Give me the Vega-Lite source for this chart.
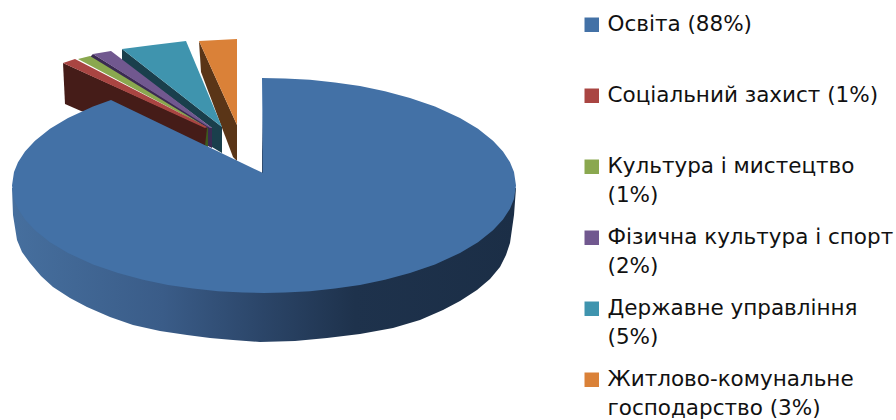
{"$schema":"https://vega.github.io/schema/vega-lite/v6.json","width":896,"height":420,"padding":0,"autosize":{"type":"fit","contains":"padding"},"background":"white","config":{"view":{"stroke":null}},
"datasets":{"wall":[
{"n":1,"x":12,"y":188},{"n":2,"x":13,"y":215},{"n":3,"x":17,"y":240},{"n":4,"x":22,"y":252},{"n":5,"x":30,"y":263},{"n":6,"x":41,"y":276},{"n":7,"x":53,"y":287},{"n":8,"x":70,"y":298},{"n":9,"x":87,"y":307},{"n":10,"x":110,"y":317},{"n":11,"x":133,"y":325},{"n":12,"x":160,"y":331},{"n":13,"x":187,"y":335},{"n":14,"x":210,"y":338},{"n":15,"x":233,"y":340},{"n":16,"x":260,"y":342},{"n":17,"x":295,"y":341},{"n":18,"x":327,"y":338},{"n":19,"x":360,"y":334},{"n":20,"x":393,"y":328},{"n":21,"x":420,"y":320},{"n":22,"x":443,"y":310},{"n":23,"x":460,"y":301},{"n":24,"x":477,"y":290},{"n":25,"x":490,"y":279},{"n":26,"x":500,"y":267},{"n":27,"x":506,"y":255},{"n":28,"x":510,"y":243},{"n":29,"x":514,"y":215},{"n":30,"x":516,"y":188},{"n":31,"x":264,"y":200}],
"sideWalls":[
{"part":"inner","n":1,"x":262,"y":110},{"part":"inner","n":2,"x":263.5,"y":173},{"part":"inner","n":3,"x":262,"y":173},
{"part":"orange","n":1,"x":199,"y":41},{"part":"orange","n":2,"x":201,"y":72},{"part":"orange","n":3,"x":233,"y":157},{"part":"orange","n":4,"x":237,"y":161},{"part":"orange","n":5,"x":237,"y":125},
{"part":"teal","n":1,"x":122,"y":49},{"part":"teal","n":2,"x":122,"y":61},{"part":"teal","n":3,"x":212,"y":128},{"part":"teal","n":4,"x":212,"y":147},{"part":"teal","n":5,"x":222,"y":153},{"part":"teal","n":6,"x":222,"y":127},
{"part":"purple","n":1,"x":93,"y":54},{"part":"purple","n":2,"x":90,"y":57},{"part":"purple","n":3,"x":208,"y":130},{"part":"purple","n":4,"x":208,"y":146},{"part":"purple","n":5,"x":212,"y":148},{"part":"purple","n":6,"x":212,"y":128},
{"part":"green","n":1,"x":205,"y":128},{"part":"green","n":2,"x":208,"y":128},{"part":"green","n":3,"x":208,"y":147},{"part":"green","n":4,"x":205,"y":146},
{"part":"red","n":1,"x":63,"y":63},{"part":"red","n":2,"x":65,"y":104},{"part":"red","n":3,"x":81,"y":111},{"part":"red","n":4,"x":205,"y":146},{"part":"red","n":5,"x":207,"y":128}],
"tops":[
{"c":"Житлово-комунальне\nгосподарство (3%)","n":1,"x":199,"y":41},{"c":"Житлово-комунальне\nгосподарство (3%)","n":2,"x":218,"y":40},{"c":"Житлово-комунальне\nгосподарство (3%)","n":3,"x":237,"y":39},{"c":"Житлово-комунальне\nгосподарство (3%)","n":4,"x":237,"y":125},
{"c":"Державне управління\n(5%)","n":1,"x":122,"y":49},{"c":"Державне управління\n(5%)","n":2,"x":153,"y":45},{"c":"Державне управління\n(5%)","n":3,"x":186,"y":41},{"c":"Державне управління\n(5%)","n":4,"x":222,"y":127},
{"c":"Фізична культура і спорт\n(2%)","n":1,"x":93,"y":54},{"c":"Фізична культура і спорт\n(2%)","n":2,"x":111,"y":51},{"c":"Фізична культура і спорт\n(2%)","n":3,"x":212,"y":128},{"c":"Фізична культура і спорт\n(2%)","n":4,"x":210,"y":128},
{"c":"Культура і мистецтво\n(1%)","n":1,"x":78,"y":59},{"c":"Культура і мистецтво\n(1%)","n":2,"x":90,"y":56},{"c":"Культура і мистецтво\n(1%)","n":3,"x":208,"y":128},
{"c":"Соціальний захист (1%)\n","n":1,"x":63,"y":63},{"c":"Соціальний захист (1%)\n","n":2,"x":75,"y":59},{"c":"Соціальний захист (1%)\n","n":3,"x":207,"y":127},{"c":"Соціальний захист (1%)\n","n":4,"x":205,"y":128},
{"c":"Освіта (88%)\n","n":1,"x":262,"y":78},{"c":"Освіта (88%)\n","n":2,"x":285,"y":78.4},{"c":"Освіта (88%)\n","n":3,"x":310,"y":79.8},{"c":"Освіта (88%)\n","n":4,"x":335,"y":82.4},{"c":"Освіта (88%)\n","n":5,"x":360,"y":86.1},{"c":"Освіта (88%)\n","n":6,"x":385,"y":91.2},{"c":"Освіта (88%)\n","n":7,"x":410,"y":97.9},{"c":"Освіта (88%)\n","n":8,"x":435,"y":106.5},{"c":"Освіта (88%)\n","n":9,"x":460,"y":117.9},{"c":"Освіта (88%)\n","n":10,"x":478,"y":128.7},{"c":"Освіта (88%)\n","n":11,"x":493,"y":140.7},{"c":"Освіта (88%)\n","n":12,"x":503,"y":151.4},{"c":"Освіта (88%)\n","n":13,"x":510,"y":162.2},{"c":"Освіта (88%)\n","n":14,"x":514,"y":172},{"c":"Освіта (88%)\n","n":15,"x":516,"y":185.5},{"c":"Освіта (88%)\n","n":16,"x":514,"y":199},{"c":"Освіта (88%)\n","n":17,"x":510,"y":208.8},{"c":"Освіта (88%)\n","n":18,"x":503,"y":219.6},{"c":"Освіта (88%)\n","n":19,"x":493,"y":230.3},{"c":"Освіта (88%)\n","n":20,"x":478,"y":242.3},{"c":"Освіта (88%)\n","n":21,"x":460,"y":253},{"c":"Освіта (88%)\n","n":22,"x":435,"y":264.5},{"c":"Освіта (88%)\n","n":23,"x":410,"y":273},{"c":"Освіта (88%)\n","n":24,"x":385,"y":279.8},{"c":"Освіта (88%)\n","n":25,"x":360,"y":284.9},{"c":"Освіта (88%)\n","n":26,"x":335,"y":288.6},{"c":"Освіта (88%)\n","n":27,"x":310,"y":291.2},{"c":"Освіта (88%)\n","n":28,"x":285,"y":292.6},{"c":"Освіта (88%)\n","n":29,"x":264,"y":293},{"c":"Освіта (88%)\n","n":30,"x":243,"y":292.6},{"c":"Освіта (88%)\n","n":31,"x":218,"y":291.2},{"c":"Освіта (88%)\n","n":32,"x":193,"y":288.6},{"c":"Освіта (88%)\n","n":33,"x":168,"y":284.9},{"c":"Освіта (88%)\n","n":34,"x":143,"y":279.8},{"c":"Освіта (88%)\n","n":35,"x":118,"y":273},{"c":"Освіта (88%)\n","n":36,"x":93,"y":264.5},{"c":"Освіта (88%)\n","n":37,"x":68,"y":253},{"c":"Освіта (88%)\n","n":38,"x":50,"y":242.3},{"c":"Освіта (88%)\n","n":39,"x":35,"y":230.3},{"c":"Освіта (88%)\n","n":40,"x":25,"y":219.6},{"c":"Освіта (88%)\n","n":41,"x":18,"y":208.8},{"c":"Освіта (88%)\n","n":42,"x":14,"y":199},{"c":"Освіта (88%)\n","n":43,"x":12,"y":185.5},{"c":"Освіта (88%)\n","n":44,"x":14,"y":172},{"c":"Освіта (88%)\n","n":45,"x":18,"y":162.2},{"c":"Освіта (88%)\n","n":46,"x":25,"y":151.4},{"c":"Освіта (88%)\n","n":47,"x":35,"y":140.7},{"c":"Освіта (88%)\n","n":48,"x":50,"y":128.7},{"c":"Освіта (88%)\n","n":49,"x":68,"y":117.9},{"c":"Освіта (88%)\n","n":50,"x":93,"y":106.5},{"c":"Освіта (88%)\n","n":51,"x":111,"y":100},{"c":"Освіта (88%)\n","n":52,"x":263,"y":173}]},
"layer":[
{"data":{"name":"wall"},"mark":{"type":"line","stroke":null,"fill":{"gradient":"linear","x1":0,"y1":0,"x2":1,"y2":0,"stops":[{"offset":0,"color":"#466f9e"},{"offset":0.3,"color":"#3a5c88"},{"offset":0.5,"color":"#2b4568"},{"offset":0.68,"color":"#1e324c"},{"offset":1,"color":"#1b2e46"}]}},
"encoding":{"x":{"field":"x","type":"quantitative","scale":{"domain":[0,896],"nice":false,"zero":false},"axis":null},"y":{"field":"y","type":"quantitative","scale":{"domain":[420,0],"nice":false,"zero":false},"axis":null},"order":{"field":"n","type":"quantitative"}}},
{"data":{"name":"sideWalls"},"mark":{"type":"line","filled":true,"strokeWidth":0},
"encoding":{"x":{"field":"x","type":"quantitative","axis":null},"y":{"field":"y","type":"quantitative","axis":null},"order":{"field":"n","type":"quantitative"},
"color":{"field":"part","type":"nominal","legend":null,"scale":{"domain":["inner","orange","teal","purple","green","red"],"range":["#2f4a6c","#5a3517","#1a3f4c","#3a2a52","#3e5a1e","#451c18"]}}}},
{"data":{"name":"tops"},"mark":{"type":"line","filled":true,"strokeWidth":0},
"encoding":{"x":{"field":"x","type":"quantitative","axis":null},"y":{"field":"y","type":"quantitative","axis":null},"order":{"field":"n","type":"quantitative"},
"color":{"field":"c","type":"nominal","scale":{"domain":["Освіта (88%)\n","Соціальний захист (1%)\n","Культура і мистецтво\n(1%)","Фізична культура і спорт\n(2%)","Державне управління\n(5%)","Житлово-комунальне\nгосподарство (3%)"],"range":["#4371a6","#a94542","#8aa84f","#71588f","#3f94ae","#da8138"]},
"legend":{"orient":"none","legendX":581,"legendY":14,"title":null,"symbolType":"square","symbolSize":210,"symbolStrokeWidth":0,"labelFont":"DejaVu Sans","labelFontSize":21.5,"labelColor":"#111111","labelExpr":"split(datum.label,'\\n')","labelLimit":320,"rowPadding":19,"labelOffset":5,"encoding":{"labels":{"lineHeight":{"value":29}}}}}}}
],
"resolve":{"scale":{"color":"independent"}}}
